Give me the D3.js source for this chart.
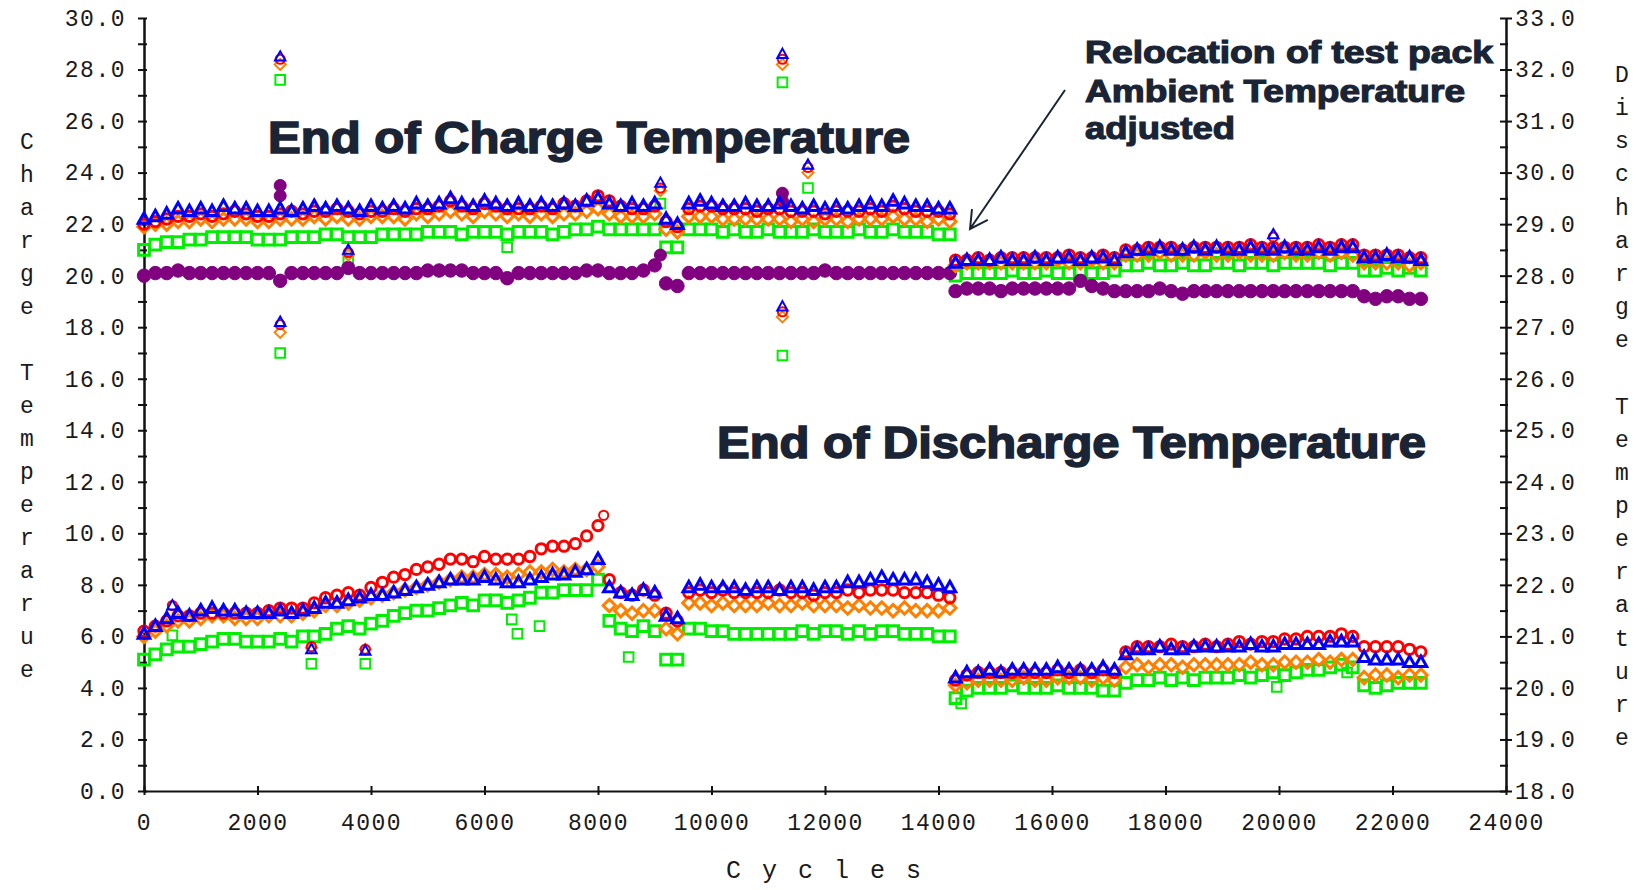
<!DOCTYPE html>
<html><head><meta charset="utf-8">
<script src="https://cdn.jsdelivr.net/npm/d3@7"></script>
<style>
html,body{margin:0;padding:0;background:#fff;}
svg{display:block;}
</style></head><body>
<svg id="chart" width="1648" height="890"></svg>
<script>
// ---------- DATA ----------
const cycles = [0,200,400,600,800,1000,1200,1400,1600,1800,2000,2200,2400,2600,2800,3000,3200,3400,3600,3800,4000,4200,4400,4600,4800,5000,5200,5400,5600,5800,6000,6200,6400,6600,6800,7000,7200,7400,7600,7800,8000,8200,8400,8600,8800,9000,9200,9400,9600,9800,10000,10200,10400,10600,10800,11000,11200,11400,11600,11800,12000,12200,12400,12600,12800,13000,13200,13400,13600,13800,14000,14200,
14300,14500,14700,14900,15100,15300,15500,15700,15900,16100,16300,16500,16700,16900,17100,17300,17500,17700,17900,18100,18300,18500,18700,18900,19100,19300,19500,19700,19900,20100,20300,20500,20700,20900,21100,21300,21500,21700,21900,22100,22300,22500];

// End of charge temperature (left axis)
const chargeBlue = [22.2,22.3,22.4,22.6,22.5,22.6,22.5,22.7,22.6,22.6,22.5,22.5,22.6,22.5,22.6,22.7,22.6,22.7,22.6,22.5,22.7,22.6,22.7,22.6,22.8,22.7,22.8,23.0,22.8,22.7,22.9,22.8,22.7,22.8,22.7,22.8,22.7,22.8,22.7,22.9,23.0,22.8,22.7,22.8,22.7,22.8,22.2,22.0,22.8,22.9,22.8,22.7,22.7,22.8,22.7,22.7,22.8,22.7,22.6,22.7,22.6,22.7,22.6,22.7,22.8,22.7,22.9,22.8,22.7,22.7,22.6,22.6,
20.5,20.6,20.6,20.6,20.7,20.6,20.6,20.7,20.6,20.7,20.7,20.6,20.7,20.7,20.6,20.9,21.0,21.0,21.1,21.0,21.0,21.1,21.0,21.1,21.0,21.0,21.1,21.0,21.0,21.1,21.0,21.0,21.1,21.0,21.1,21.1,20.7,20.7,20.8,20.7,20.7,20.6];
const chargeRed = [22.0,22.1,22.2,22.3,22.3,22.4,22.3,22.4,22.5,22.4,22.3,22.3,22.4,22.5,22.4,22.5,22.5,22.6,22.5,22.4,22.5,22.5,22.6,22.5,22.6,22.6,22.7,22.9,22.7,22.6,22.8,22.7,22.6,22.6,22.6,22.7,22.6,22.8,22.7,22.9,23.1,22.9,22.7,22.6,22.6,22.7,22.1,21.9,22.6,22.7,22.7,22.6,22.6,22.6,22.5,22.6,22.6,22.5,22.5,22.5,22.4,22.5,22.5,22.5,22.6,22.5,22.7,22.6,22.5,22.5,22.5,22.4,
20.6,20.6,20.7,20.6,20.7,20.7,20.7,20.7,20.7,20.7,20.8,20.7,20.7,20.8,20.7,21.0,21.0,21.1,21.1,21.1,21.0,21.1,21.1,21.1,21.1,21.1,21.2,21.1,21.1,21.1,21.1,21.1,21.2,21.1,21.2,21.2,20.8,20.8,20.8,20.8,20.7,20.7];
const chargeOrange = [21.9,22.0,22.0,22.1,22.1,22.2,22.1,22.2,22.2,22.2,22.1,22.1,22.2,22.2,22.2,22.3,22.2,22.3,22.2,22.2,22.3,22.3,22.3,22.2,22.4,22.3,22.4,22.5,22.4,22.3,22.5,22.4,22.3,22.4,22.3,22.4,22.3,22.4,22.4,22.5,22.6,22.4,22.3,22.3,22.3,22.4,21.8,21.7,22.3,22.3,22.3,22.2,22.2,22.2,22.2,22.2,22.2,22.1,22.2,22.1,22.2,22.2,22.1,22.2,22.2,22.2,22.3,22.2,22.2,22.1,22.2,22.1,
20.4,20.5,20.5,20.5,20.5,20.5,20.5,20.5,20.5,20.6,20.5,20.5,20.6,20.5,20.5,20.8,20.8,20.8,20.9,20.8,20.8,20.8,20.9,20.8,20.8,20.9,20.8,20.8,20.8,20.9,20.8,20.8,20.9,20.8,20.9,20.8,20.5,20.5,20.5,20.5,20.4,20.5];
const chargeGreen = [21.0,21.2,21.3,21.3,21.4,21.4,21.5,21.5,21.5,21.5,21.4,21.4,21.4,21.5,21.5,21.5,21.6,21.6,21.5,21.5,21.5,21.6,21.6,21.6,21.6,21.7,21.7,21.7,21.6,21.7,21.7,21.7,21.6,21.7,21.7,21.7,21.6,21.7,21.8,21.8,21.9,21.8,21.8,21.8,21.8,21.8,21.1,21.1,21.8,21.8,21.8,21.7,21.8,21.7,21.7,21.8,21.7,21.7,21.7,21.8,21.7,21.7,21.7,21.8,21.7,21.7,21.8,21.7,21.7,21.7,21.6,21.6,
20.0,20.1,20.1,20.1,20.1,20.2,20.1,20.1,20.2,20.1,20.1,20.2,20.1,20.1,20.2,20.4,20.4,20.5,20.4,20.4,20.5,20.4,20.4,20.5,20.5,20.4,20.5,20.5,20.4,20.5,20.5,20.5,20.5,20.4,20.5,20.5,20.2,20.2,20.3,20.2,20.3,20.2];
const chargePurple = [20.0,20.1,20.1,20.2,20.1,20.1,20.1,20.1,20.1,20.1,20.1,20.1,19.8,20.1,20.1,20.1,20.1,20.1,20.3,20.1,20.1,20.1,20.1,20.1,20.1,20.2,20.2,20.2,20.2,20.1,20.1,20.1,19.9,20.1,20.1,20.1,20.1,20.1,20.1,20.2,20.2,20.1,20.1,20.1,20.2,20.4,19.7,19.6,20.1,20.1,20.1,20.1,20.1,20.1,20.1,20.1,20.1,20.1,20.1,20.1,20.2,20.1,20.1,20.1,20.1,20.1,20.1,20.1,20.1,20.1,20.1,20.1,
19.4,19.5,19.5,19.5,19.4,19.5,19.5,19.5,19.5,19.5,19.5,19.8,19.6,19.5,19.4,19.4,19.4,19.4,19.5,19.4,19.3,19.4,19.4,19.4,19.4,19.4,19.4,19.4,19.4,19.4,19.4,19.4,19.4,19.4,19.4,19.4,19.2,19.1,19.2,19.2,19.1,19.1];

// isolated charge readings [cycle, value]
const chargeBlueOut = [[2400,28.5],[2400,18.2],[3600,21.0],[9100,23.6],[11250,28.6],[11250,18.8],[11700,24.3],[19900,21.6]];
const chargeRedOut = [[2400,28.4],[2400,18.1],[3600,20.9],[9100,23.4],[11250,28.4],[11250,18.6],[11700,24.2],[19900,21.5]];
const chargeOrangeOut = [[2400,28.2],[2400,17.8],[3600,20.8],[9100,23.3],[11250,28.2],[11250,18.4],[11700,24.0]];
const chargeGreenOut = [[2400,27.6],[2400,17.0],[3600,20.6],[6400,21.1],[9100,22.8],[11250,27.5],[11250,16.9],[11700,23.4]];
const chargePurpleOut = [[2400,23.5],[2400,23.1],[9100,20.8],[11250,23.2],[11250,22.9]];

// End of discharge temperature (right axis)
const dischargeBlue = [21.05,21.2,21.35,21.45,21.4,21.5,21.55,21.5,21.5,21.45,21.45,21.45,21.5,21.45,21.5,21.55,21.65,21.65,21.7,21.75,21.8,21.8,21.85,21.9,21.95,22.0,22.05,22.1,22.1,22.1,22.15,22.1,22.05,22.05,22.1,22.15,22.2,22.2,22.25,22.3,22.5,21.95,21.85,21.8,21.9,21.85,21.4,21.35,21.95,22.0,21.95,21.95,21.95,21.9,21.95,21.95,21.9,21.95,21.95,21.9,21.95,21.95,22.05,22.05,22.1,22.15,22.1,22.1,22.1,22.05,22.0,21.95,
20.2,20.3,20.3,20.35,20.3,20.35,20.35,20.35,20.35,20.4,20.35,20.35,20.35,20.4,20.35,20.65,20.75,20.75,20.8,20.75,20.75,20.8,20.8,20.8,20.8,20.8,20.85,20.8,20.8,20.85,20.85,20.85,20.85,20.9,20.9,20.9,20.6,20.55,20.55,20.55,20.5,20.5];
const dischargeRed = [21.1,21.2,21.3,21.4,21.4,21.45,21.45,21.45,21.45,21.45,21.45,21.5,21.55,21.55,21.55,21.65,21.75,21.8,21.85,21.8,21.95,22.05,22.15,22.2,22.3,22.35,22.4,22.5,22.5,22.45,22.55,22.5,22.5,22.5,22.55,22.7,22.75,22.75,22.8,22.95,23.15,22.1,21.85,21.8,21.9,21.8,21.45,21.3,21.85,21.9,21.85,21.9,21.85,21.85,21.85,21.85,21.9,21.85,21.85,21.8,21.85,21.85,21.9,21.85,21.9,21.9,21.9,21.85,21.85,21.85,21.8,21.75,
20.15,20.25,20.3,20.3,20.3,20.3,20.3,20.3,20.3,20.35,20.3,20.35,20.3,20.35,20.3,20.7,20.8,20.8,20.8,20.85,20.8,20.8,20.85,20.8,20.85,20.9,20.85,20.9,20.9,20.95,20.95,21.0,21.0,21.0,21.05,21.0,20.8,20.8,20.8,20.8,20.75,20.7];
const dischargeOrange = [21.0,21.1,21.2,21.3,21.3,21.35,21.4,21.4,21.35,21.35,21.35,21.4,21.4,21.4,21.45,21.5,21.6,21.6,21.65,21.7,21.75,21.8,21.85,21.9,21.95,22.0,22.05,22.1,22.15,22.15,22.2,22.2,22.15,22.2,22.25,22.25,22.3,22.25,22.3,22.3,22.35,21.6,21.5,21.45,21.5,21.5,21.15,21.05,21.65,21.65,21.6,21.65,21.6,21.6,21.6,21.65,21.6,21.6,21.65,21.6,21.6,21.6,21.55,21.6,21.55,21.55,21.5,21.55,21.5,21.5,21.5,21.55,
20.05,20.1,20.15,20.15,20.15,20.15,20.2,20.15,20.15,20.2,20.2,20.2,20.15,20.2,20.15,20.4,20.45,20.4,20.45,20.45,20.4,20.45,20.45,20.45,20.45,20.45,20.5,20.45,20.45,20.5,20.5,20.5,20.55,20.5,20.55,20.55,20.2,20.25,20.25,20.2,20.25,20.25];
const dischargeGreen = [20.55,20.65,20.75,20.8,20.8,20.85,20.9,20.95,20.95,20.9,20.9,20.9,20.95,20.9,21.0,21.0,21.05,21.15,21.2,21.15,21.25,21.3,21.4,21.45,21.5,21.5,21.55,21.6,21.65,21.6,21.7,21.7,21.65,21.7,21.75,21.85,21.85,21.9,21.9,21.9,22.1,21.3,21.15,21.1,21.2,21.1,20.55,20.55,21.15,21.15,21.1,21.1,21.05,21.05,21.05,21.05,21.05,21.05,21.1,21.05,21.1,21.1,21.05,21.1,21.05,21.1,21.1,21.05,21.05,21.05,21.0,21.0,
19.8,19.95,20.0,20.0,20.0,20.05,20.0,20.0,20.0,20.05,20.0,20.0,20.0,19.95,19.95,20.1,20.15,20.15,20.2,20.15,20.2,20.15,20.2,20.2,20.2,20.25,20.2,20.25,20.3,20.25,20.3,20.35,20.35,20.4,20.45,20.4,20.05,20.0,20.05,20.1,20.1,20.1];

// isolated discharge readings [cycle, value]
const dischargeBlueOut = [[500,21.6],[2950,20.75],[3900,20.72]];
const dischargeRedOut = [[500,21.6],[2950,20.8],[3900,20.75],[8100,23.35]];
const dischargeOrangeOut = [[2950,20.78],[3900,20.75]];
const dischargeGreenOut = [[500,21.02],[2950,20.47],[3900,20.47],[6480,21.33],[6580,21.05],[6970,21.2],[8540,20.6],[14400,19.7],[19960,20.02],[21200,20.3]];

// axes ticks
const xTicks = [0,2000,4000,6000,8000,10000,12000,14000,16000,18000,20000,22000,24000];
const leftMajorTicks = [0,2,4,6,8,10,12,14,16,18,20,22,24,26,28,30];
const leftMinorTicks = [1,3,5,7,9,11,13,15,17,19,21,23,25,27,29];
const rightMajorTicks = [18,19,20,21,22,23,24,25,26,27,28,29,30,31,32,33];
const rightMinorTicks = [18.5,19.5,20.5,21.5,22.5,23.5,24.5,25.5,26.5,27.5,28.5,29.5,30.5,31.5,32.5];

const leftTitle = "Charge Temperarue";
const rightTitle = "Discharge Temperature";
const xTitle = "Cycles";

// ---------- CHART ----------
const svg = d3.select('#chart');
const x = d3.scaleLinear().domain([0,24000]).range([144,1506]);
const yL = d3.scaleLinear().domain([0,30]).range([791,18]);
const yR = d3.scaleLinear().domain([18,33]).range([791,18]);
const MONO = "'Liberation Mono','DejaVu Sans Mono',monospace";
const SANS = "'Liberation Sans',Arial,sans-serif";
const INK = '#1b2434';

function styleAxis(g){
  g.attr('font-family', MONO).attr('font-size', 23);
  g.selectAll('text').attr('fill','#1a1a1a').style('letter-spacing','1.5px');
  g.selectAll('line').attr('stroke','#111').attr('stroke-width',2);
  g.select('.domain').attr('stroke','#111').attr('stroke-width',2);
}

// left axis
const gL = svg.append('g').attr('transform','translate(144,0)')
  .call(d3.axisLeft(yL).tickValues(leftMajorTicks).tickFormat(d=>d.toFixed(1)).tickSize(6).tickSizeOuter(0).tickPadding(12));
styleAxis(gL);
gL.selectAll('.tick line').attr('x1',3);
const gL2 = svg.append('g').attr('transform','translate(144,0)')
  .call(d3.axisLeft(yL).tickValues(leftMinorTicks).tickFormat('').tickSize(6).tickSizeOuter(0));
styleAxis(gL2);
gL2.selectAll('.tick line').attr('x1',3);

// right axis
const gR = svg.append('g').attr('transform','translate(1506,0)')
  .call(d3.axisRight(yR).tickValues(rightMajorTicks).tickFormat(d=>d.toFixed(1)).tickSize(6).tickSizeOuter(0).tickPadding(3));
styleAxis(gR);
gR.selectAll('.tick line').attr('x1',-6);
const gR2 = svg.append('g').attr('transform','translate(1506,0)')
  .call(d3.axisRight(yR).tickValues(rightMinorTicks).tickFormat('').tickSize(2).tickSizeOuter(0));
styleAxis(gR2);
gR2.selectAll('.tick line').attr('x1',-6);

// bottom axis
const gB = svg.append('g').attr('transform','translate(0,791)')
  .call(d3.axisBottom(x).tickValues(xTicks).tickFormat(d3.format('d')).tickSize(4).tickSizeOuter(0).tickPadding(19));
styleAxis(gB);
gB.selectAll('.tick line').attr('y1',-5);

// axis titles
svg.append('g').selectAll('text').data(leftTitle.split('')).join('text')
  .attr('x',27).attr('y',(d,i)=>143+i*33).attr('text-anchor','middle').attr('dominant-baseline','central')
  .attr('font-family',MONO).attr('font-size',23).attr('fill','#1a1a1a').text(d=>d);
svg.append('g').selectAll('text').data(rightTitle.split('')).join('text')
  .attr('x',1622).attr('y',(d,i)=>76+i*33.15).attr('text-anchor','middle').attr('dominant-baseline','central')
  .attr('font-family',MONO).attr('font-size',23).attr('fill','#1a1a1a').text(d=>d);
svg.append('text').attr('x',726).attr('y',878).attr('font-family',MONO).attr('font-size',25)
  .attr('fill','#1a1a1a').style('letter-spacing','21px').text(xTitle);

// ---------- MARKERS ----------
const layer = svg.append('g');
function pts(vals){ return cycles.map((c,i)=>[c, vals[i]]).filter(p=>p[1]!=null); }
const shapes = {
  circle: r => `M${-r},0A${r},${r} 0 1,0 ${r},0A${r},${r} 0 1,0 ${-r},0Z`,
  triangle: r => `M0,${-r*1.05}L${r},${r*0.75}L${-r},${r*0.75}Z`,
  diamond: r => `M0,${-r}L${r},0L0,${r}L${-r},0Z`,
  square: r => `M${-r},${-r}H${r}V${r}H${-r}Z`
};
function draw(data, ys, shape, r, color, filled, sw){
  layer.append('g').selectAll('path').data(data).join('path')
    .attr('transform', d=>`translate(${x(d[0])},${ys(d[1])})`)
    .attr('d', shapes[shape](r))
    .attr('fill', filled ? color : 'none')
    .attr('stroke', color).attr('stroke-width', filled ? 1 : sw);
}
const GREEN='#00ee00', PURPLE='#800080', ORANGE='#ff7f00', RED='#ff0000', BLUE='#0000ff';
function series(main, out, ys, shape, r, color, filled){
  draw(pts(main), ys, shape, r*1.12, color, filled, 3);
  draw(out, ys, shape, r, color, filled, 2);
}
// discharge
series(dischargeGreen, dischargeGreenOut, yR, 'square', 4.8, GREEN);
series(dischargeOrange, dischargeOrangeOut, yR, 'diamond', 5.5, ORANGE);
series(dischargeRed, dischargeRedOut, yR, 'circle', 4.6, RED);
series(dischargeBlue, dischargeBlueOut, yR, 'triangle', 5.2, BLUE);
// charge
series(chargeGreen, chargeGreenOut, yL, 'square', 4.8, GREEN);
series(chargePurple, chargePurpleOut, yL, 'circle', 6.0, PURPLE, true);
series(chargeOrange, chargeOrangeOut, yL, 'diamond', 5.5, ORANGE);
series(chargeRed, chargeRedOut, yL, 'circle', 4.6, RED);
series(chargeBlue, chargeBlueOut, yL, 'triangle', 5.2, BLUE);

// ---------- ANNOTATIONS ----------
function label(txt, x0, y0, size, len, sw){
  svg.append('text').attr('x',x0).attr('y',y0).attr('font-family',SANS).attr('font-weight','bold')
    .attr('font-size',size).attr('fill',INK).attr('stroke',INK).attr('stroke-width',sw)
    .attr('textLength',len).attr('lengthAdjust','spacingAndGlyphs').text(txt);
}
label('End of Charge Temperature', 268, 153, 44, 642, 1.6);
label('End of Discharge Temperature', 717, 458, 44, 709, 1.6);
label('Relocation of test pack', 1085, 63, 32, 408, 1.2);
label('Ambient Temperature', 1085, 102, 32, 380, 1.2);
label('adjusted', 1085, 139, 32, 150, 1.2);

// arrow
const a0=[1065,90], a1=[970,229];
const ang = Math.atan2(a0[1]-a1[1], a0[0]-a1[0]);
const hl = 20, sp = 0.5;
svg.append('path').attr('fill','none').attr('stroke',INK).attr('stroke-width',2)
  .attr('d', `M${a0[0]},${a0[1]}L${a1[0]},${a1[1]}` +
    `M${a1[0]+hl*Math.cos(ang-sp)},${a1[1]+hl*Math.sin(ang-sp)}L${a1[0]},${a1[1]}L${a1[0]+hl*Math.cos(ang+sp)},${a1[1]+hl*Math.sin(ang+sp)}`);
</script>
</body></html>
